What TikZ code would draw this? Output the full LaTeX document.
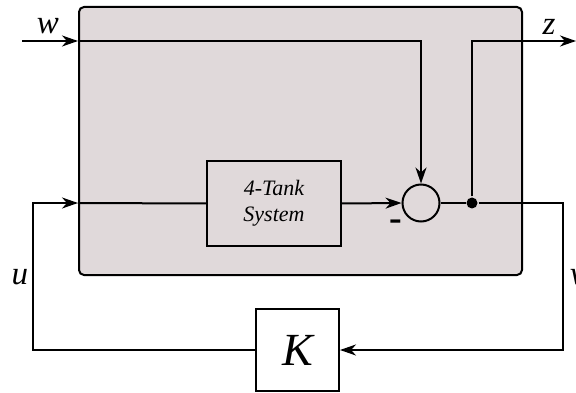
\documentclass[tikz,border=0pt]{standalone}
\usepackage{fontspec}
\setmainfont{Liberation Serif}
\usepackage{tikz}
\usetikzlibrary{positioning,calc,arrows.meta}
\definecolor{plantGray}{RGB}{224,217,218}

\begin{document}
\begin{tikzpicture}[x=1pt, y=-1pt, line width=2pt,
        every node/.style={align=center},
        sig/.style={-{Stealth[length=16pt, width=11pt, inset=5pt]}},
        lbl/.style={font=\itshape\fontsize{33}{33}\selectfont, inner sep=0pt}]
        \useasboundingbox (0,0) rectangle (576,393);

        \node[draw, fill=plantGray, rounded corners=5pt, minimum width=443pt, minimum height=268pt] (plant) at (300.5,141) {};
        \node[draw, minimum width=134pt, minimum height=85pt, font=\itshape\fontsize{22}{26}\selectfont] (tank) at (274,203.5)
            {4-Tank\\System};
        \node[draw, circle, minimum size=37pt, inner sep=0pt] (sum) at (421,203) {};
        \node[fill, circle, minimum size=11pt, inner sep=0pt] (split) at (472,203) {};
        \node[draw, minimum width=83pt, minimum height=82pt, font=\itshape\fontsize{46}{46}\selectfont] (K) at (297.5,350) {K};
        \node[font=\bfseries\fontsize{38}{38}\selectfont, inner sep=0pt] (minus) at (396,225) {-};

        \coordinate (wIn) at (22,41);
        \coordinate (zOut) at (576,41);
        \coordinate (vRight) at (563,203);
        \coordinate (uLeft) at (33,203);

        \draw[sig] (wIn) -- (plant.west |- wIn);
        \draw[sig] (plant.west |- wIn) -| (sum.north);
        \draw[sig] (split) |- (zOut);
        \draw[sig] (tank.east) -- (sum.west);
        \draw (sum.east) -- (split);
        \draw[sig] (split) -- (vRight) |- (K.east);
        \draw[sig] (K.west) -| (uLeft) -- (plant.west |- uLeft);
        \draw (plant.west |- uLeft) -- (tank.west);

        \node[lbl] (wLab) at (48,26) {w};
        \node[lbl] (zLab) at (549,27) {z};
        \node[lbl] (uLab) at (20,277) {u};
        \node[lbl, anchor=west] (vLab) at (569,277) {v};
\end{tikzpicture}
\end{document}
